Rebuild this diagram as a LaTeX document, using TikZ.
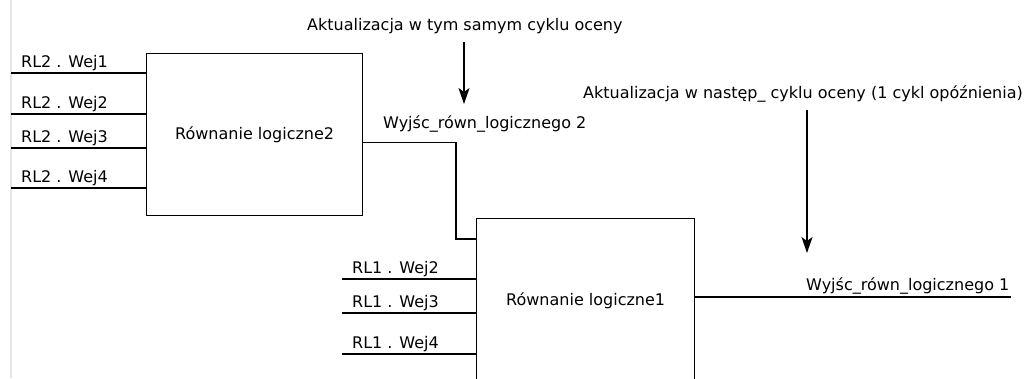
\documentclass[tikz,border=0pt]{standalone}
\usepackage{fontspec}
\setmainfont{DejaVu Sans}
\usetikzlibrary{arrows.meta}
\begin{document}
\begin{tikzpicture}[x=1pt,y=-1pt,
  every node/.style={font=\fontsize{16pt}{19pt}\selectfont, inner sep=0pt},
  wire/.style={line width=1.3pt, line cap=rect},
  blk/.style={draw, line width=1.3pt, minimum width=#1, anchor=north west},
  lbl/.style={anchor=base west},
  arr/.style={line width=1.3pt, -{Stealth[length=16pt,width=11pt,inset=4pt]}}]
\useasboundingbox (0,0) rectangle (1033,378);
\fill[black!10] (9.5,0) rectangle (11.5,378);
% blocks
\node[blk=216pt, minimum height=162pt] (b2) at (146,53) {Równanie logiczne2};
\node[blk=218pt, minimum height=164pt] (b1) at (476,218) {Równanie logiczne1};
% inputs of block 2
\coordinate (i21) at (12,73);
\coordinate (i22) at (12,114);
\coordinate (i23) at (12,148);
\coordinate (i24) at (12,188);
\foreach \n/\t in {i21/RL2 . Wej1, i22/RL2 . Wej2, i23/RL2 . Wej3, i24/RL2 . Wej4}{
  \draw[wire] (\n) -- (\n -| b2.west);
  \node[lbl] (l\n) at ([xshift=9pt,yshift=6pt]\n) {\t};
}
% inputs of block 1
\coordinate (i12) at (343,279);
\coordinate (i13) at (343,313);
\coordinate (i14) at (343,354);
\foreach \n/\t in {i12/RL1 . Wej2, i13/RL1 . Wej3, i14/RL1 . Wej4}{
  \draw[wire] (\n) -- (\n -| b1.west);
  \node[lbl] (l\n) at ([xshift=9pt,yshift=6pt]\n) {\t};
}
% connection block2 -> block1
\draw[wire] ([yshift=-8pt]b2.east) -| ([xshift=-20pt,yshift=-21pt]b1.north west) -- ([yshift=-21pt]b1.north west);
\node[lbl] (w2) at (383,128) {Wyjśc\_równ\_logicznego 2};
% output of block 1
\coordinate (o1) at (1010,297);
\draw[wire] (o1 -| b1.east) -- (o1);
\node[lbl] (w1) at (806,290) {Wyjśc\_równ\_logicznego 1};
% annotations
\node[lbl] (t1) at (307,30) {Aktualizacja w tym samym cyklu oceny};
\coordinate (a1s) at (464,42);
\coordinate (a1e) at (464,104);
\draw[arr] (a1s) -- (a1e);
\node[lbl] (t2) at (583,98) {Aktualizacja w następ\_ cyklu oceny (1 cykl opóźnienia)};
\coordinate (a2s) at (807,110);
\coordinate (a2e) at (807,253);
\draw[arr] (a2s) -- (a2e);
\end{tikzpicture}
\end{document}
